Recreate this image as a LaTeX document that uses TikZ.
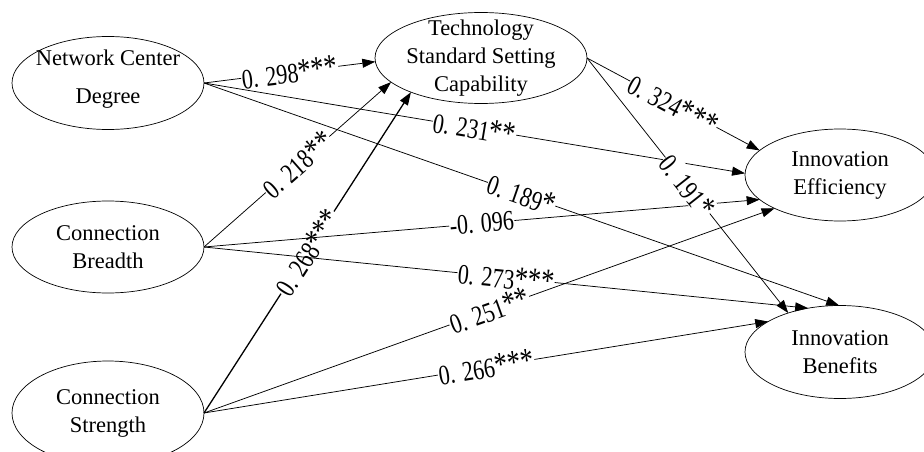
\documentclass[tikz,border=0pt]{standalone}
\usepackage{fontspec}
\setmainfont{Liberation Serif}
\usepackage{graphicx}
\usetikzlibrary{arrows.meta,shapes.geometric}
\newcommand\mystar{\scalebox{1.2}{*}}
\newcommand\labtxt[1]{\scalebox{1}[1.28]{#1}}
\begin{document}
\begin{tikzpicture}[x=1pt,y=-1pt,
  latent/.style={draw, ellipse, line width=0.7pt, inner sep=0pt, outer sep=0pt},
  ltxt/.style={align=center, font=\fontsize{22.5}{28}\selectfont, inner sep=0pt},
  edge/.style={line width=0.75pt, -{Triangle[length=13pt,width=9pt]}},
  lbl/.style={sloped, fill=white, inner sep=0.6pt, pos=0.5, font=\fontsize{22}{22}\selectfont}]
\clip (0,0) rectangle (924,452);
\fill[white] (0,0) rectangle (924,452);
% constructs
\node[latent, minimum width=192pt, minimum height=93pt,
  label={[ltxt, yshift=4pt]center:{Network Center\\[10pt]Degree}}] (ncd) at (108,83) {};
\node[latent, minimum width=212pt, minimum height=91pt,
  label={[ltxt]center:{Technology\\Standard Setting\\Capability}}] (tech) at (481,58) {};
\node[latent, minimum width=192pt, minimum height=92pt,
  label={[ltxt]center:{Connection\\Breadth}}] (cb) at (108,247) {};
\node[latent, minimum width=192pt, minimum height=104pt,
  label={[ltxt]center:{Connection\\Strength}}] (cs) at (108,413) {};
\node[latent, minimum width=190pt, minimum height=92pt,
  label={[ltxt]center:{Innovation\\Efficiency}}] (ie) at (840,175) {};
\node[latent, minimum width=190pt, minimum height=93pt,
  label={[ltxt]center:{Innovation\\Benefits}}] (ib) at (840,352) {};
% paths
\draw[edge, line width=1.3pt] (cs.east) -- node[lbl] (l7) {\labtxt{0. 268\mystar\mystar\mystar}} (tech.206);
\draw[edge] (ncd.east) -- node[lbl] (l1) {\labtxt{0. 298\mystar\mystar\mystar}} (tech.182);
\draw[edge] (ncd.east) -- node[lbl] (l2) {\labtxt{0. 231\mystar\mystar}} (ie.179);
\draw[edge] (ncd.east) -- node[lbl] (l3) {\labtxt{0. 189\mystar}} (ib.91);
\draw[edge] (cb.east) -- node[lbl] (l4) {\labtxt{0. 218\mystar\mystar}} (tech.195);
\draw[edge] (cb.east) -- node[lbl] (l5) {\labtxt{-0. 096}} (ie.197);
\draw[edge] (cb.east) -- node[lbl] (l6) {\labtxt{0. 273\mystar\mystar\mystar}} (ib.126);
\draw[edge] (cs.east) -- node[lbl] (l8) {\labtxt{0. 251\mystar\mystar}} (ie.207);
\draw[edge] (cs.east) -- node[lbl] (l9) {\labtxt{0. 266\mystar\mystar\mystar}} (ib.157);
\draw[edge] (tech.east) -- node[lbl] (l10) {\labtxt{0. 324\mystar\mystar\mystar}} (ie.163);
\draw[edge] (tech.east) -- node[lbl] (l11) {\labtxt{0. 191\mystar}} (ib.143);
\end{tikzpicture}
\end{document}
